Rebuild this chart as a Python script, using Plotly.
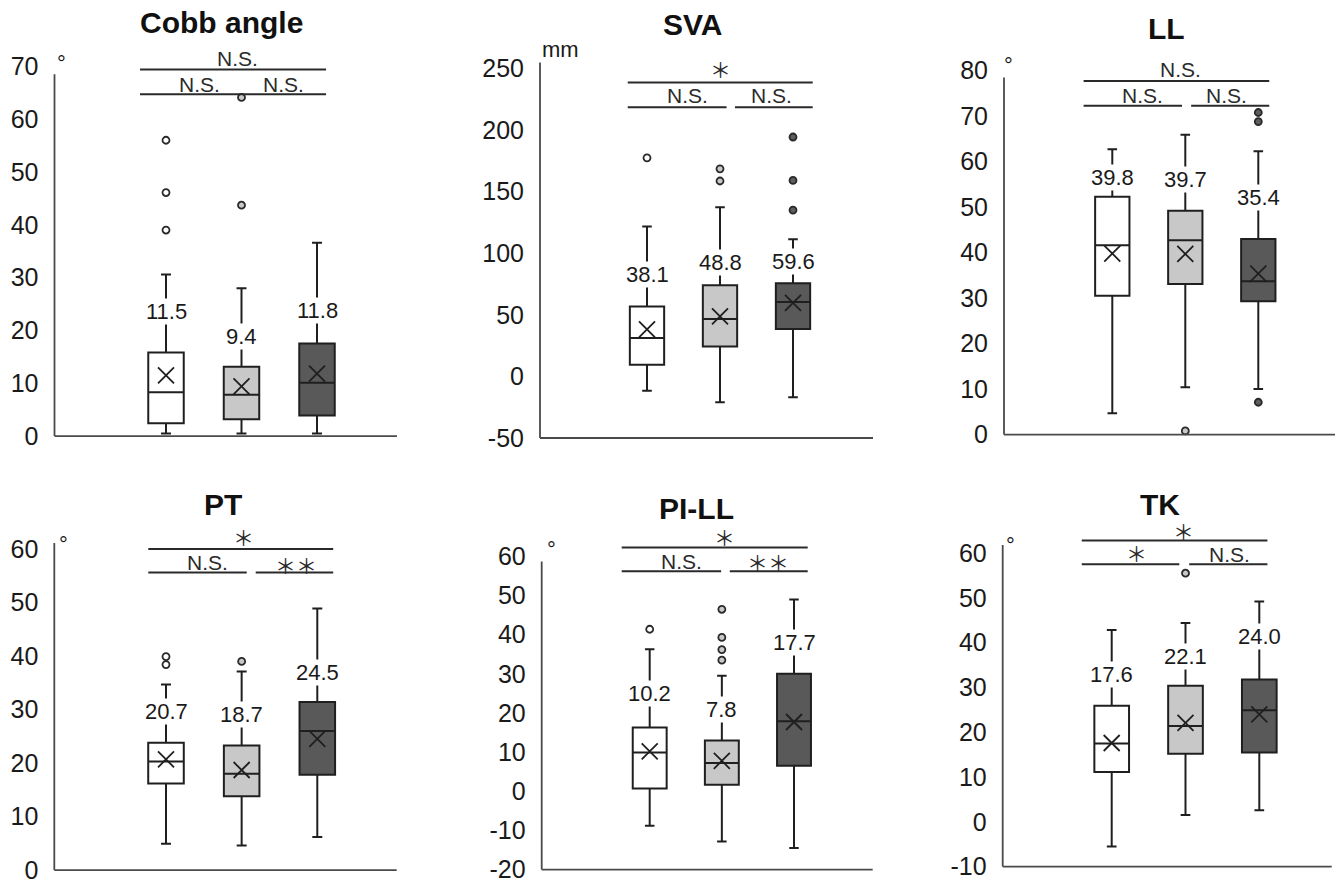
import plotly.graph_objects as go

# Figure fills the 1339x887 window exactly (page body margin removed after plotting).
W, H = 1339, 887

# ---------------- data ----------------
panel_titles = ["Cobb angle", "SVA", "LL", "PT", "PI-LL", "TK"]
panel_units = ["°", "mm", "°", "°", "°", "°"]
group_positions = [1, 2, 3]

cobb_lower = [0.5, 0.5, 0.5]
cobb_q1 = [2.4, 3.2, 3.9]
cobb_median = [8.3, 7.8, 10.1]
cobb_q3 = [15.8, 13.1, 17.5]
cobb_upper = [30.6, 28.0, 36.6]
cobb_mean = [11.5, 9.4, 11.8]
cobb_outliers = [[39.0, 46.1, 56.0], [43.7, 64.1], []]
cobb_sig = ["N.S.", "N.S.", "N.S."]
cobb_ticks = [0, 10, 20, 30, 40, 50, 60, 70]

sva_lower = [-11.6, -21.0, -17.0]
sva_q1 = [9.5, 24.2, 38.5]
sva_median = [31.2, 46.5, 60.4]
sva_q3 = [56.7, 73.9, 75.7]
sva_upper = [121.6, 137.2, 111.4]
sva_mean = [38.1, 48.8, 59.6]
sva_outliers = [[177.4], [158.6, 168.5], [135.0, 159.1, 194.3]]
sva_sig = ["*", "N.S.", "N.S."]
sva_ticks = [-50, 0, 50, 100, 150, 200, 250]

ll_lower = [4.7, 10.4, 10.0]
ll_q1 = [30.5, 33.1, 29.3]
ll_median = [41.6, 42.7, 33.7]
ll_q3 = [52.3, 49.2, 43.0]
ll_upper = [62.7, 65.9, 62.3]
ll_mean = [39.8, 39.7, 35.4]
ll_outliers = [[], [0.8], [7.1, 68.8, 70.8]]
ll_sig = ["N.S.", "N.S.", "N.S."]
ll_ticks = [0, 10, 20, 30, 40, 50, 60, 70, 80]

pt_lower = [4.9, 4.6, 6.2]
pt_q1 = [16.2, 13.8, 17.8]
pt_median = [20.3, 18.0, 26.0]
pt_q3 = [23.8, 23.3, 31.4]
pt_upper = [34.7, 37.1, 48.9]
pt_mean = [20.7, 18.7, 24.5]
pt_outliers = [[38.4, 39.9], [39.0], []]
pt_sig = ["*", "N.S.", "**"]
pt_ticks = [0, 10, 20, 30, 40, 50, 60]

pill_lower = [-8.8, -12.8, -14.5]
pill_q1 = [0.7, 1.7, 6.5]
pill_median = [9.9, 7.2, 17.9]
pill_q3 = [16.3, 13.0, 30.0]
pill_upper = [36.3, 29.5, 49.0]
pill_mean = [10.2, 7.8, 17.7]
pill_outliers = [[41.4], [33.5, 36.2, 39.3, 46.5], []]
pill_sig = ["*", "N.S.", "**"]
pill_ticks = [-20, -10, 0, 10, 20, 30, 40, 50, 60]

tk_lower = [-5.5, 1.5, 2.6]
tk_q1 = [11.1, 15.2, 15.5]
tk_median = [17.5, 21.4, 24.9]
tk_q3 = [25.9, 30.4, 31.8]
tk_upper = [42.8, 44.4, 49.2]
tk_mean = [17.6, 22.1, 24.0]
tk_outliers = [[], [55.5], []]
tk_sig = ["*", "*", "N.S."]
tk_ticks = [-10, 0, 10, 20, 30, 40, 50, 60]

stats = [
    (cobb_lower, cobb_q1, cobb_median, cobb_q3, cobb_upper, cobb_mean, cobb_outliers, cobb_sig, cobb_ticks),
    (sva_lower, sva_q1, sva_median, sva_q3, sva_upper, sva_mean, sva_outliers, sva_sig, sva_ticks),
    (ll_lower, ll_q1, ll_median, ll_q3, ll_upper, ll_mean, ll_outliers, ll_sig, ll_ticks),
    (pt_lower, pt_q1, pt_median, pt_q3, pt_upper, pt_mean, pt_outliers, pt_sig, pt_ticks),
    (pill_lower, pill_q1, pill_median, pill_q3, pill_upper, pill_mean, pill_outliers, pill_sig, pill_ticks),
    (tk_lower, tk_q1, tk_median, tk_q3, tk_upper, tk_mean, tk_outliers, tk_sig, tk_ticks),
]

# ---------------- placement (window pixels + data-unit placements) ----------------
geom = [
    dict(left=54.5, right=397, base=440, top=45, c1=166, step=75.5, k=5.33, axis_top=68.5),
    dict(left=540, right=873, base=442, top=45, c1=647, step=73, k=1.2433, axis_top=254.8),
    dict(left=1004, right=1335, base=438.5, top=45, c1=1112.3, step=73, k=4.59, axis_top=78.5),
    dict(left=54.3, right=396.7, base=878, top=530, c1=166, step=75.65, k=5.4, axis_top=61.1),
    dict(left=541.7, right=872.7, base=877.5, top=530, c1=649.7, step=72.15, k=3.95, axis_top=58.7),
    dict(left=1002.7, right=1331.7, base=874.5, top=530, c1=1111.7, step=73.8, k=4.52, axis_top=61.8),
]
title_px = [(221.7, 23), (692.7, 25), (1166, 29), (222.5, 509), (696.7, 513), (1160.3, 509)]
unit_pos = [(-0.38, 71.6), (-0.19, 265.3), (-0.415, 82.5), (-0.358, 62.0), (-0.368, 63.2), (-0.369, 63.05)]
label_y = [
    [23.5, 18.9, 23.8],
    [83.0, 92.4, 93.2],
    [56.5, 56.1, 52.1],
    [29.6, 29.1, 37.0],
    [24.9, 21.0, 38.0],
    [33.0, 36.9, 41.3],
]
brackets = [
    dict(x0=0.656, x1=3.12, gap=None, top_y=69.4, low_y=64.7, t_top=(1.95, 71.5), t_left=(1.45, 66.6), t_right=(2.56, 66.6)),
    dict(x0=0.736, x1=3.27, gap=(2.09, 2.205), top_y=238.5, low_y=218.4, t_top=(2.0, 249.8), t_left=(1.56, 227.7), t_right=(2.70, 227.7)),
    dict(x0=0.607, x1=3.15, gap=(1.955, 2.08), top_y=77.7, low_y=72.3, t_top=(1.93, 80.3), t_left=(1.41, 74.5), t_right=(2.57, 74.5)),
    dict(x0=0.766, x1=3.21, gap=(2.067, 2.186), top_y=60.0, low_y=55.6, t_top=(2.03, 62.3), t_left=(1.55, 57.5), t_right=(2.72, 57.0)),
    dict(x0=0.612, x1=3.19, gap=(1.99, 2.11), top_y=62.3, low_y=56.2, t_top=(2.03, 65.0), t_left=(1.44, 58.7), t_right=(2.64, 58.5)),
    dict(x0=0.594, x1=3.11, gap=(1.916, 2.05), top_y=62.8, low_y=57.5, t_top=(1.97, 64.9), t_left=(1.33, 60.0), t_right=(2.60, 59.6)),
]

LINE = "#1f1f1f"
AXIS = "#4a4a4a"
FILLS = ["#ffffff", "#c8c8c8", "#595959"]
OUT_FILLS = ["#ffffff", "#c8c8c8", "#5e5e5e"]
PAD = 6
FONT = "Liberation Sans, Arial, sans-serif"
CJK = "Noto Sans CJK JP"


def fx(px):
    return px / W


def fy(py):
    return 1 - py / H


fig = go.Figure()
annotations = []
shapes = []
layout_axes = {}

for i, title in enumerate(panel_titles):
    n = i + 1
    xr = "x" if n == 1 else f"x{n}"
    yr = "y" if n == 1 else f"y{n}"
    lower, q1, med, q3, upper, mean, outl, sig, ticks = stats[i]
    g = geom[i]
    ymin = ticks[0]

    def px2x(px, g=g):
        return 1 + (px - g["c1"]) / g["step"]

    right_edge = min(g["right"] + PAD, W)
    xlo, xhi = px2x(g["left"] - PAD), px2x(right_edge)
    ylo = ymin - PAD / g["k"]
    yhi = ymin + (g["base"] - g["top"]) / g["k"]

    for j in range(3):
        fig.add_trace(go.Box(
            x=[group_positions[j]], q1=[q1[j]], median=[med[j]], q3=[q3[j]],
            lowerfence=[lower[j]], upperfence=[upper[j]],
            width=0.47, whiskerwidth=0.28, fillcolor=FILLS[j],
            line=dict(color=LINE, width=2), boxpoints=False,
            showlegend=False, hoverinfo="skip", xaxis=xr, yaxis=yr))
        if outl[j]:
            fig.add_trace(go.Scatter(
                x=[group_positions[j]] * len(outl[j]), y=outl[j], mode="markers",
                marker=dict(symbol="circle", size=7, color=OUT_FILLS[j],
                            line=dict(color="#2a2a2a", width=1.8)),
                showlegend=False, hoverinfo="skip", xaxis=xr, yaxis=yr))
        annotations.append(dict(
            x=group_positions[j], y=label_y[i][j], xref=xr, yref=yr,
            text=f"{mean[j]:.1f}", showarrow=False, bgcolor="white", borderpad=0,
            xanchor="center", yanchor="middle",
            font=dict(family=FONT, size=22, color="#1a1a1a")))
    fig.add_trace(go.Scatter(
        x=group_positions, y=mean, mode="markers",
        marker=dict(symbol="x-thin", size=16, line=dict(color=LINE, width=1.8)),
        showlegend=False, hoverinfo="skip", xaxis=xr, yaxis=yr))

    # axis lines
    xl = px2x(g["left"])
    xrgt = px2x(min(g["right"], W - 1))
    shapes.append(dict(type="line", xref=xr, yref=yr, x0=xl, x1=xl, y0=ymin, y1=g["axis_top"],
                       line=dict(color=AXIS, width=1.8)))
    shapes.append(dict(type="line", xref=xr, yref=yr, x0=xl, x1=xrgt, y0=ymin, y1=ymin,
                       line=dict(color=AXIS, width=1.8)))

    # significance brackets
    b = brackets[i]
    shapes.append(dict(type="line", xref=xr, yref=yr, x0=b["x0"], x1=b["x1"], y0=b["top_y"], y1=b["top_y"],
                       line=dict(color="#2a2a2a", width=2)))
    if b["gap"] is None:
        shapes.append(dict(type="line", xref=xr, yref=yr, x0=b["x0"], x1=b["x1"], y0=b["low_y"], y1=b["low_y"],
                           line=dict(color="#2a2a2a", width=2)))
    else:
        shapes.append(dict(type="line", xref=xr, yref=yr, x0=b["x0"], x1=b["gap"][0], y0=b["low_y"], y1=b["low_y"],
                           line=dict(color="#2a2a2a", width=2)))
        shapes.append(dict(type="line", xref=xr, yref=yr, x0=b["gap"][1], x1=b["x1"], y0=b["low_y"], y1=b["low_y"],
                           line=dict(color="#2a2a2a", width=2)))
    for txt, pos in zip(sig, [b["t_top"], b["t_left"], b["t_right"]]):
        is_star = "*" in txt
        annotations.append(dict(
            x=pos[0], y=pos[1], xref=xr, yref=yr, showarrow=False,
            xanchor="center", yanchor="middle",
            text=txt.replace("*", "＊") if is_star else txt,
            font=dict(family=CJK if is_star else FONT, size=21, color="#2a2a2a")))

    # unit label
    annotations.append(dict(
        x=unit_pos[i][0], y=unit_pos[i][1], xref=xr, yref=yr, showarrow=False,
        xanchor="center", yanchor="middle",
        text=panel_units[i], yshift=-6 if panel_units[i] == "°" else 0,
        font=dict(family=FONT, size=22, color="#1a1a1a")))

    # title
    tx, ty = title_px[i]
    annotations.append(dict(
        x=fx(tx), y=fy(ty), xref="paper", yref="paper", showarrow=False,
        xanchor="center", yanchor="middle",
        text=f"<b>{title}</b>", font=dict(family=FONT, size=30, color="#111111")))

    xkey = "xaxis" if n == 1 else f"xaxis{n}"
    ykey = "yaxis" if n == 1 else f"yaxis{n}"
    layout_axes[xkey] = dict(
        domain=[fx(g["left"] - PAD), min(fx(right_edge), 1.0)], range=[xlo, xhi], anchor=yr,
        showticklabels=False, showgrid=False, zeroline=False, showline=False, ticks="",
        fixedrange=True)
    layout_axes[ykey] = dict(
        domain=[max(fy(g["base"] + PAD), 0.0), fy(g["top"])], range=[ylo, yhi], anchor=xr,
        tickvals=ticks, ticktext=[str(t) for t in ticks],
        ticks="", showgrid=False, zeroline=False, showline=False,
        ticklabelstandoff=9, tickfont=dict(family=FONT, size=25, color="#1a1a1a"),
        fixedrange=True)

fig.update_layout(
    width=W, height=H, margin=dict(l=0, r=0, t=0, b=0),
    paper_bgcolor="white", plot_bgcolor="white",
    boxmode="overlay", showlegend=False, hovermode=False,
    annotations=annotations, shapes=shapes,
    **layout_axes)

fig.write_html(
    "out.html",
    config={"displayModeBar": False, "staticPlot": True},
    post_script="document.body.style.margin='0';document.body.style.overflow='hidden';",
)
